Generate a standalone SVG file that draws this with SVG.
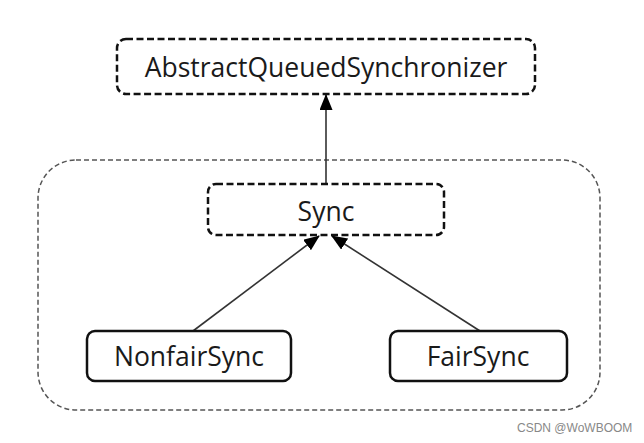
<svg xmlns="http://www.w3.org/2000/svg" width="644" height="443" viewBox="0 0 644 443">
<style>
.node{fill:#fff;stroke:#111;stroke-width:2.5}
.dash{stroke-dasharray:7 3.5}
.group{fill:none;stroke:#555;stroke-width:1.5;stroke-dasharray:5 3}
.lbl{font-family:"Open Sans","Noto Sans",sans-serif;font-size:26.5px;fill:#1a1a1a;text-anchor:middle}
.edge{stroke:#333;stroke-width:1.6;fill:none}
.wm{font-family:"Liberation Sans",Arial,sans-serif;font-size:12px;fill:#888}
</style>
<defs>
<marker id="arr" viewBox="0 0 16 13" refX="15" refY="6.5" markerWidth="16" markerHeight="13" markerUnits="userSpaceOnUse" orient="auto">
<path d="M0,0 L16,6.5 L0,13 Z" fill="#000"/>
</marker>
</defs>
<rect width="644" height="443" fill="#fff"/>
<g id="group-box">
<rect class="group" x="38" y="160" width="562" height="250" rx="38" ry="38"/>
</g>
<g id="edges">
<line class="edge" x1="326" y1="183" x2="326" y2="95" marker-end="url(#arr)"/>
<line class="edge" x1="193" y1="331" x2="319" y2="236" marker-end="url(#arr)"/>
<line class="edge" x1="480" y1="331" x2="332" y2="236" marker-end="url(#arr)"/>
</g>
<g id="aqs">
<rect class="node dash" x="117" y="39" width="418" height="55" rx="9"/>
<text class="lbl" x="326" y="77">AbstractQueuedSynchronizer</text>
</g>
<g id="sync">
<rect class="node dash" x="208" y="184" width="236" height="51" rx="8"/>
<text class="lbl" x="326" y="221">Sync</text>
</g>
<g id="nonfairsync">
<rect class="node" x="87" y="331" width="204" height="50" rx="8"/>
<text class="lbl" x="189" y="366">NonfairSync</text>
</g>
<g id="fairsync">
<rect class="node" x="390" y="331" width="177" height="50" rx="8"/>
<text class="lbl" x="478" y="366">FairSync</text>
</g>
<text class="wm" x="517" y="432">CSDN @WoWBOOM</text>
</svg>
